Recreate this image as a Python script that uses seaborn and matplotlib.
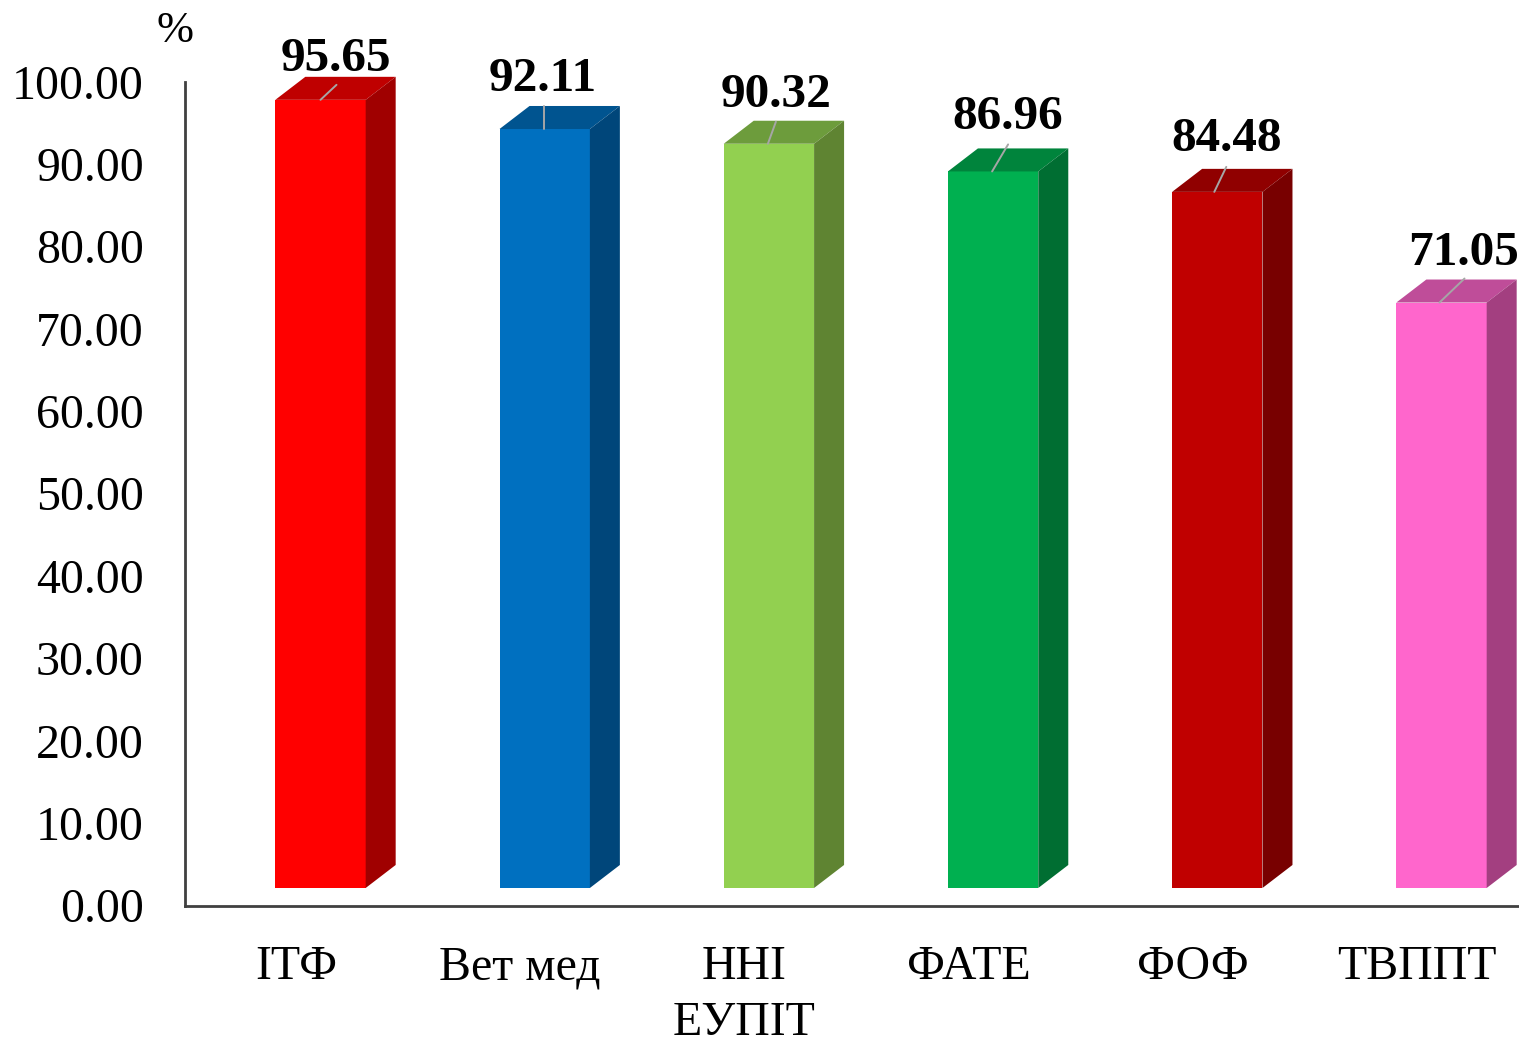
import numpy as np
import pandas as pd
import seaborn as sns
import matplotlib.pyplot as plt
from matplotlib.patches import Polygon

faculties = ["ІТФ", "Вет мед", "ННІ\nЕУПІТ", "ФАТЕ", "ФОФ", "ТВППТ"]
percent = [95.65, 92.11, 90.32, 86.96, 84.48, 71.05]
y_ticks = [0, 10, 20, 30, 40, 50, 60, 70, 80, 90, 100]

front_colors = ["#ff0000", "#0070c0", "#92d050", "#00b050", "#c00000", "#ff66cc"]
top_colors = ["#bf0000", "#005490", "#6d9c3c", "#00843c", "#900000", "#bf4d99"]
side_colors = ["#a00000", "#00467a", "#5f8432", "#006e32", "#780000", "#a33f80"]

W, H = 1519, 1037
PX_X = 224.2  # pixels per category
PX_Y = 8.235  # pixels per percent

# label and leader placement, pixels relative to the bar top
label_shift = [(15, 29), (-2, 38), (7, 37), (15, 42), (9, 41), (22, 38)]
leader_start = [0, -1, -1, -1, -3, -2]
leader_end = [(16, 15), (0, 23), (8, 22), (16, 27), (12, 25), (25, 24)]

df = pd.DataFrame({"faculty": faculties, "percent": percent})

sns.set_style("white")
plt.rcParams["font.family"] = ["Liberation Serif", "DejaVu Serif"]

fig = plt.figure(figsize=(W / 100, H / 100), dpi=100)
ax = fig.add_axes([185 / W, (H - 905.5) / H, (W - 185) / W, (905.5 - 81.5) / H])

sns.barplot(data=df, x="faculty", y="percent", hue="faculty", palette=front_colors,
            width=0.403, legend=False, saturation=1, linewidth=0, ax=ax)

# the bars float a little over the floor and get a fake 3d depth
lift = 17.5 / PX_Y
depth_x = 30 / PX_X
depth_y = 23 / PX_Y

for i, bar in enumerate(ax.patches):
    bar.set_y(lift)
    x0 = bar.get_x()
    x1 = x0 + bar.get_width()
    y1 = lift + bar.get_height()
    ax.add_patch(Polygon([(x0, y1), (x1, y1), (x1 + depth_x, y1 + depth_y), (x0 + depth_x, y1 + depth_y)],
                         closed=True, facecolor=top_colors[i], edgecolor="none", clip_on=False))
    ax.add_patch(Polygon([(x1, lift), (x1 + depth_x, lift + depth_y), (x1 + depth_x, y1 + depth_y), (x1, y1)],
                         closed=True, facecolor=side_colors[i], edgecolor="none", clip_on=False))

    start = i + leader_start[i] / PX_X
    end_x = start + leader_end[i][0] / PX_X
    end_y = y1 + leader_end[i][1] / PX_Y
    ax.plot([start, end_x], [y1, end_y], color="#a6a6a6", lw=1.4, clip_on=False, zorder=5)

    ax.annotate(f"{percent[i]:.2f}", xy=(i, y1), xytext=label_shift[i], textcoords="offset pixels",
                ha="center", va="baseline", fontsize=35.5, fontweight="bold", color="black",
                annotation_clip=False)

ax.set_xlim(-135.5 / PX_X, (W - 320.5) / PX_X)
ax.set_ylim(0, 100)

ax.set_yticks(y_ticks)
ax.set_yticklabels([f"{t:.2f}" for t in y_ticks], fontsize=34.5, color="black")
ax.set_xticks(np.arange(len(faculties)) - 24.5 / PX_X)
ax.set_xticklabels(faculties, fontsize=34.5, color="black", linespacing=1.35)
ax.tick_params(axis="y", length=0, pad=29.6)
ax.tick_params(axis="x", length=0, pad=28.5)
ax.set_xlabel("")
ax.set_ylabel("")

sns.despine(ax=ax)
ax.spines["left"].set_color("#404040")
ax.spines["bottom"].set_color("#404040")
ax.spines["left"].set_linewidth(2)
ax.spines["bottom"].set_linewidth(2)

fig.text(175.5 / W, 1 - 31 / H, "%", fontsize=32, ha="center", va="center", color="black")

fig.savefig("out.png", dpi=100)
